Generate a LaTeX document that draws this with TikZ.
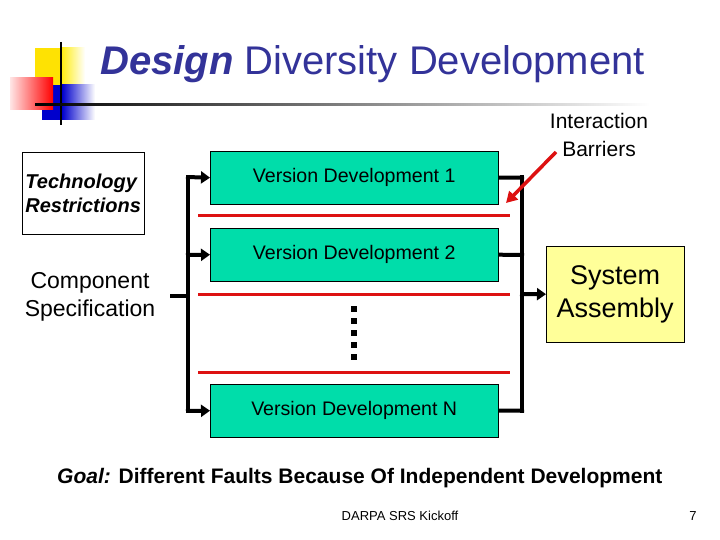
\documentclass[tikz,border=0pt]{standalone}
\usepackage{fontspec}
\setmainfont{Liberation Sans}
\usetikzlibrary{arrows.meta}
\definecolor{navy}{HTML}{333399}
\definecolor{vgreen}{HTML}{00DDAA}
\definecolor{syel}{HTML}{FFFF99}
\definecolor{rline}{HTML}{DD1111}
\begin{document}
\begin{tikzpicture}[x=1pt,y=-1pt,
  vbox/.style={draw=black,fill=vgreen,minimum width=288pt,minimum height=53pt,font=\fontsize{19.6}{22}\selectfont,inner sep=0pt},
  bus/.style={line width=4pt},
  inarr/.style={line width=4pt,-{Triangle[length=9pt,width=12pt]}},
  barrier/.style={rline,line width=3pt}]
\useasboundingbox (0,0) rectangle (720,540);
% logo
\fill[yellow!85!orange] (35,48) rectangle (75,85);
\shade[left color=yellow!85!orange,right color=white] (60,48) rectangle (85,85);
\fill[blue!80!black] (42,85) rectangle (70,120);
\shade[left color=blue!80!black,right color=white] (62,85) rectangle (95,120);
\shade[left color=red!10,right color=red] (10,78) rectangle (53,110);
\draw[line width=1.5pt] (61,42) -- (61,125);
\shade[left color=black,right color=white] (35,103.5) rectangle (650,106);
\node[font=\fontsize{40}{44}\selectfont,text=navy,anchor=west,inner sep=0pt] (title) at (100,64) {\textbf{\textit{Design}} Diversity Development};
% version boxes
\node[vbox,anchor=north west] (v1) at (210,151) {Version Development 1};
\node[vbox,anchor=north west] (v2) at (210,228) {Version Development 2};
\node[vbox,anchor=north west] (vn) at (210,384) {Version Development N};
\draw[barrier] (198,216) -- (510,216);
\draw[barrier] (198,294) -- (510,294);
\draw[barrier] (198,372) -- (510,372);
\foreach \yy in {309,321,...,357} \fill (351,\yy-3) rectangle (357,\yy+3);
% tech restrictions
\node[draw=black,minimum width=122pt,minimum height=82pt,anchor=north west,font=\fontsize{20}{24}\selectfont\bfseries\itshape,align=left,inner sep=0pt] (tr) at (22,152) {Technology\\Restrictions};
\node[font=\fontsize{23}{28}\selectfont,align=center] (cs) at (90,297) {Component\\Specification};
% left bus
\coordinate (cin) at (170,296);
\coordinate (lb) at (188,296);
\draw[bus] (cin) -- (lb);
\draw[bus] (188,176) -- (188,412);
\draw[inarr] (186,177) -- (v1.west);
\draw[inarr] (186,255) -- (v2.west);
\draw[inarr] (186,411) -- (vn.west);
% right bus
\draw[bus] (v1.east) -- (524,177.5);
\draw[bus] (v2.east) -- (524,255);
\draw[bus] (vn.east) -- (524,410.5);
\draw[bus] (522,175.5) -- (522,412.5);
\node[draw=black,fill=syel,minimum width=138pt,minimum height=96pt,anchor=north west,font=\fontsize{27}{33}\selectfont,align=center,inner sep=0pt] (sa) at (546,246) {System\\Assembly};
\coordinate (rb) at (520,294);
\draw[inarr] (rb) -- (sa.west);
% interaction barriers
\node[font=\fontsize{21}{28}\selectfont,align=center] (ib) at (599,135) {Interaction\\Barriers};
\draw[rline,line width=3.5pt,-{Triangle[length=11pt,width=12pt]}] (556,152) -- (506,203);
% goal
\node[font=\fontsize{21}{23}\selectfont\bfseries,anchor=west,inner sep=0pt] (goal) at (57,478) {\textit{Goal:} Different Faults Because Of Independent Development};
\node[font=\fontsize{13}{15}\selectfont] (foot) at (400,516) {DARPA SRS Kickoff};
\node[font=\fontsize{13}{15}\selectfont] (pg) at (693,516) {7};
\end{tikzpicture}
\end{document}
